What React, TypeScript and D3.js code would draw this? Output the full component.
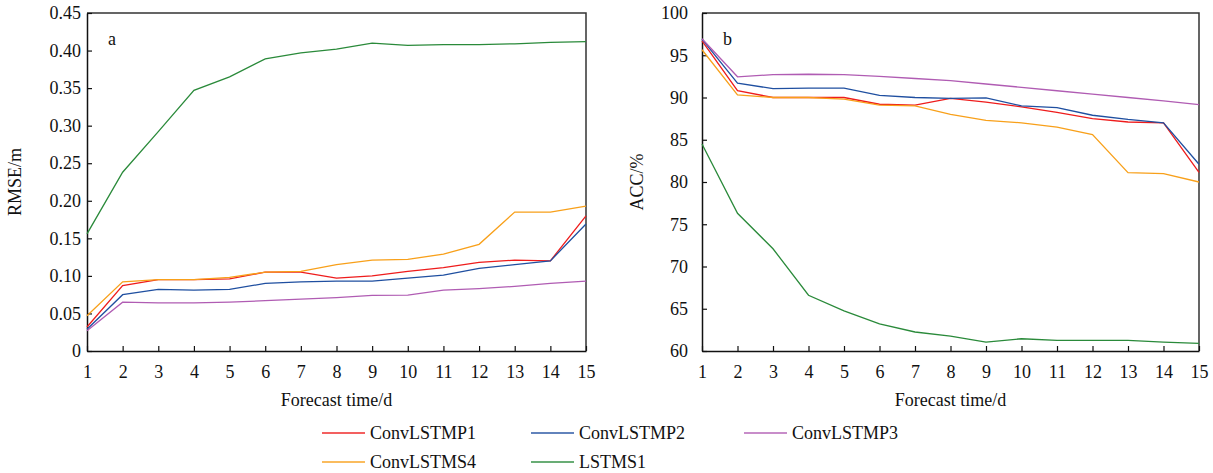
import React, { useRef, useEffect } from "react";
import * as d3 from "d3";

const days = [1, 2, 3, 4, 5, 6, 7, 8, 9, 10, 11, 12, 13, 14, 15];

const seriesNames = ["ConvLSTMP1", "ConvLSTMP2", "ConvLSTMP3", "ConvLSTMS4", "LSTMS1"];
const seriesColors = ["#ee1c1c", "#1f4fa0", "#b05cb3", "#f8a01a", "#2a8a3a"];

// panel a: RMSE (m)
const rmseP1 = [0.032, 0.087, 0.095, 0.095, 0.096, 0.105, 0.105, 0.097, 0.1, 0.106, 0.111, 0.118, 0.121, 0.12, 0.18];
const rmseP2 = [0.029, 0.075, 0.082, 0.081, 0.082, 0.09, 0.092, 0.093, 0.093, 0.097, 0.101, 0.11, 0.115, 0.12, 0.169];
const rmseP3 = [0.027, 0.065, 0.064, 0.064, 0.065, 0.067, 0.069, 0.071, 0.074, 0.0745, 0.081, 0.083, 0.086, 0.09, 0.093];
const rmseS4 = [0.047, 0.092, 0.095, 0.095, 0.098, 0.105, 0.106, 0.115, 0.121, 0.122, 0.129, 0.142, 0.185, 0.185, 0.193];
const rmseL1 = [0.156, 0.238, 0.292, 0.347, 0.365, 0.389, 0.397, 0.402, 0.41, 0.407, 0.408, 0.408, 0.409, 0.411, 0.412];

// panel b: ACC (%)
const accP1 = [96.7, 90.8, 90.0, 90.0, 90.0, 89.2, 89.1, 89.9, 89.45, 88.9, 88.25, 87.5, 87.1, 87.0, 81.15];
const accP2 = [96.9, 91.7, 91.05, 91.1, 91.1, 90.25, 90.0, 89.9, 89.95, 89.0, 88.8, 87.9, 87.4, 87.0, 82.1];
const accP3 = [96.95, 92.45, 92.7, 92.75, 92.7, 92.5, 92.25, 92.0, 91.6, 91.2, 90.8, 90.4, 90.0, 89.6, 89.15];
const accS4 = [95.65, 90.3, 90.0, 90.0, 89.8, 89.1, 89.0, 88.0, 87.3, 87.0, 86.5, 85.6, 81.1, 81.0, 80.0];
const accL1 = [84.5, 76.3, 72.1, 66.6, 64.75, 63.2, 62.25, 61.75, 61.05, 61.45, 61.25, 61.25, 61.25, 61.05, 60.9];

const rmseTicks = [0, 0.05, 0.1, 0.15, 0.2, 0.25, 0.3, 0.35, 0.4, 0.45];
const accTicks = [60, 65, 70, 75, 80, 85, 90, 95, 100];

const FONT = "'Liberation Serif', 'Times New Roman', serif";

export default function App() {
  const svgRef = useRef<SVGSVGElement>(null);

  useEffect(() => {
    const svg = d3.select(svgRef.current);
    svg.selectAll("*").remove();

    const panels = [
      {
        left: 87, right: 586, label: "a", title: "RMSE/m",
        domain: [0, 0.45], ticks: rmseTicks, fmt: (d: number) => (d === 0 ? "0" : d3.format(".2f")(d)),
        data: [rmseP1, rmseP2, rmseP3, rmseS4, rmseL1], labelGap: 6, titleX: 21,
      },
      {
        left: 702, right: 1199, label: "b", title: "ACC/%",
        domain: [60, 100], ticks: accTicks, fmt: (d: number) => String(d),
        data: [accP1, accP2, accP3, accS4, accL1], labelGap: 14, titleX: 643,
      },
    ];
    const top = 13, bottom = 351;

    panels.forEach(p => {
      const x = d3.scaleLinear().domain([1, 15]).range([p.left, p.right]);
      const y = d3.scaleLinear().domain(p.domain).range([bottom, top]);
      const g = svg.append("g");

      // frame (top and right)
      g.append("path")
        .attr("d", `M${p.left},${top}H${p.right}V${bottom}`)
        .attr("fill", "none").attr("stroke", "#333").attr("stroke-width", 1.5);

      const xAxis = g.append("g").attr("transform", `translate(0,${bottom})`)
        .call(d3.axisBottom(x).tickValues(days).tickSizeInner(-5).tickSizeOuter(0).tickPadding(14));
      const yAxis = g.append("g").attr("transform", `translate(${p.left},0)`)
        .call(d3.axisLeft(y).tickValues(p.ticks).tickFormat(p.fmt as any).tickSizeInner(-5).tickSizeOuter(0).tickPadding(p.labelGap));
      [xAxis, yAxis].forEach(a => {
        a.select(".domain").attr("stroke", "#111").attr("stroke-width", 1.5);
        a.selectAll(".tick line").attr("stroke", "#111").attr("stroke-width", 1.2);
        a.selectAll("text").attr("font-family", FONT).attr("font-size", 18).attr("fill", "#111");
      });

      const line = d3.line<number>().x((_, i) => x(days[i])).y(d => y(d));
      p.data.forEach((s, i) => {
        g.append("path").datum(s).attr("d", line)
          .attr("fill", "none").attr("stroke", seriesColors[i]).attr("stroke-width", 1.3);
      });

      g.append("text").attr("x", p.left + 21).attr("y", top + 32)
        .attr("font-family", FONT).attr("font-size", 18).attr("fill", "#111").text(p.label);

      g.append("text").attr("transform", `translate(${p.titleX},${(top + bottom) / 2}) rotate(-90)`)
        .attr("text-anchor", "middle").attr("font-family", FONT).attr("font-size", 18).attr("fill", "#111")
        .text(p.title);

      g.append("text").attr("x", (p.left + p.right) / 2).attr("y", 406)
        .attr("text-anchor", "middle").attr("font-family", FONT).attr("font-size", 18).attr("fill", "#111")
        .text("Forecast time/d");
    });

    // legend
    const legendPos = [
      [322, 433], [531, 433], [744, 433],
      [322, 462], [531, 462],
    ];
    seriesNames.forEach((name, i) => {
      const [lx, ly] = legendPos[i];
      const lg = svg.append("g").attr("transform", `translate(${lx},${ly})`);
      lg.append("line").attr("x1", 0).attr("x2", 43).attr("y1", 0).attr("y2", 0)
        .attr("stroke", seriesColors[i]).attr("stroke-width", 2).attr("stroke-opacity", 0.7);
      lg.append("text").attr("x", 48).attr("y", 6)
        .attr("font-family", FONT).attr("font-size", 18).attr("fill", "#111").text(name);
    });
  }, []);

  return (
    <svg ref={svgRef} width={1213} height={473}
      style={{ position: "absolute", left: 0, top: 0, background: "#fff" }} />
  );
}
